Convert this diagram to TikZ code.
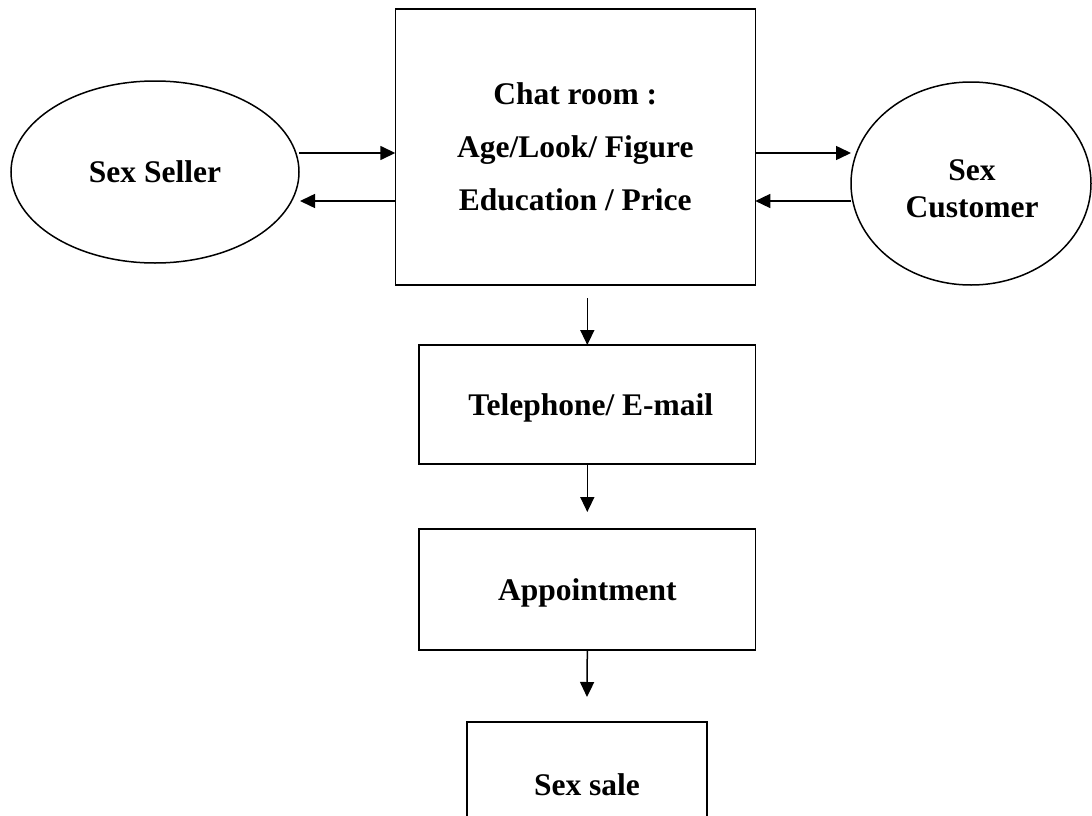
\documentclass[tikz,border=0pt]{standalone}
\usepackage{fontspec}
\setmainfont{Liberation Serif}
\usetikzlibrary{arrows.meta,shapes.geometric}
\tikzset{
  txt/.style={inner sep=0pt, outer sep=0pt, align=center,
    font=\fontsize{31.5}{37}\selectfont\bfseries},
  base/.style={txt, draw=black, line width=1.5pt},
  boxnode/.style={base, rectangle},
  ovalnode/.style={base, ellipse},
  arr/.style={line width=1.5pt, -{Triangle[length=15pt,width=14pt]}}
}
\begin{document}
\begin{tikzpicture}[x=1pt,y=-1pt]
\useasboundingbox (0,0) rectangle (1092,816);
\clip (0,0) rectangle (1092,816);
\node[boxnode, minimum width=360pt, minimum height=276pt,
  font=\fontsize{31.5}{53}\selectfont\bfseries] (chat) at (575.3,147)
  {Chat room :\\Age/Look/ Figure\\Education / Price};
\node[ovalnode, minimum width=288pt, minimum height=182pt] (seller) at (155,172) {Sex Seller};
\node[ovalnode, minimum width=240pt, minimum height=203pt] (cust) at (971,183.5) {};
\node[txt] (custtext) at (972,189) {Sex\\Customer};
\node[boxnode, minimum width=336.7pt, minimum height=119pt, text depth=0pt] (tel) at (587.3,404.5) {\hspace*{7pt}Telephone/ E-mail};
\node[boxnode, minimum width=336.7pt, minimum height=121pt, text depth=0pt] (appt) at (587.3,589.5) {Appointment};
\node[boxnode, minimum width=240pt, minimum height=126pt] (sale) at (587,785) {Sex sale};
\coordinate (yA) at (0,153);
\coordinate (yB) at (0,201);
\draw[arr] (seller.east |- yA) -- (chat.west |- yA);
\draw[arr] (chat.west |- yB) -- ([xshift=1pt]seller.east |- yB);
\draw[arr] (chat.east |- yA) -- (cust.west |- yA);
\draw[arr] (cust.west |- yB) -- (chat.east |- yB);
\draw[arr] ([yshift=-13pt]chat.south -| tel.north) -- (tel.north);
\draw[arr] (tel.south) -- ([yshift=17pt]appt.north);
\draw[arr] (appt.south) -- ([yshift=25pt]sale.north);
\end{tikzpicture}
\end{document}
